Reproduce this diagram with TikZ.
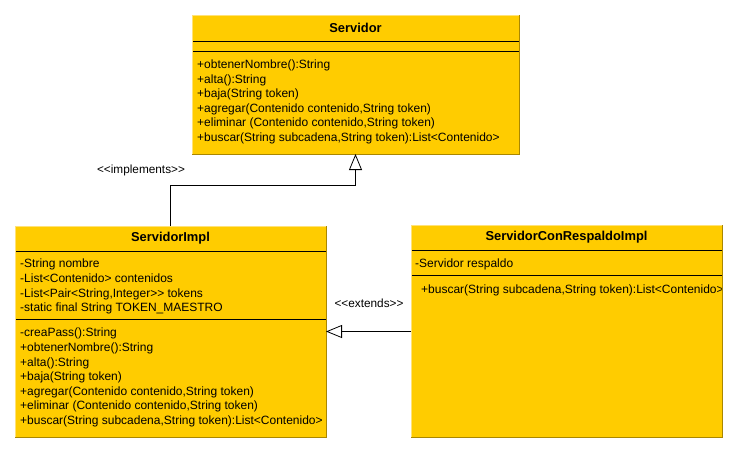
\documentclass[tikz,border=0pt]{standalone}
\usepackage{fontspec}
\setmainfont{Liberation Sans}[Ligatures=TeXOff]
\usetikzlibrary{positioning,arrows.meta}
\definecolor{umlFill}{RGB}{255,204,0}
\definecolor{umlEdge}{RGB}{170,135,0}
\definecolor{umlLight}{RGB}{255,226,120}
\tikzset{umlPart/.style={fill=umlFill, inner sep=0pt, outer sep=0pt, anchor=north west}}
\tikzset{umlTitle/.style={font=\fontsize{12.9}{15}\selectfont\bfseries}}
\tikzset{umlText/.style={font=\fontsize{12}{14.6}\selectfont, align=left, inner sep=0pt, anchor=north west}}
\tikzset{umlSep/.style={line width=0.8pt, black}}
\tikzset{umlRel/.style={line width=0.8pt, -{Triangle[open, length=16pt, width=13pt]}}}

\begin{document}
\begin{tikzpicture}[x=1pt, y=-1pt]
	\useasboundingbox (0,0) rectangle (739,453);
	
	% Servidor
	\node[umlPart, umlTitle, minimum width=327pt, minimum height=26pt] (servT) at (192,15) {Servidor};
	\node[umlPart, minimum width=327pt, minimum height=10pt, below=0pt of servT] (servA) {};
	\node[umlPart, minimum width=327pt, minimum height=103pt, below=0pt of servA] (servM) {};
	\node[umlText] (servMtxt) at ([shift={(5,8.6)}]servM.north west) {+obtenerNombre():String\\+alta():String\\+baja(String token)\\+agregar(Contenido contenido,String token)\\+eliminar (Contenido contenido,String token)\\+buscar(String subcadena,String token):List<Contenido>};
	\draw[umlSep] (servA.north west) -- (servA.north east);
	\draw[umlSep] (servM.north west) -- (servM.north east);
	\draw[umlLight] (servM.south west) -- (servT.north west) -- (servT.north east);
	\draw[umlEdge] (servT.north east) -- (servM.south east) -- (servM.south west);
	
	% ServidorImpl
	\node[umlPart, umlTitle, minimum width=311pt, minimum height=25pt] (implT) at (15,226) {ServidorImpl};
	\node[umlPart, minimum width=311pt, minimum height=68pt, below=0pt of implT] (implA) {};
	\node[umlPart, minimum width=311pt, minimum height=118pt, below=0pt of implA] (implM) {};
	\node[umlText] (implAtxt) at ([shift={(5,8)}]implA.north west) {-String nombre\\-List<Contenido> contenidos\\-List<Pair<String,Integer>> tokens\\-static final String TOKEN\_MAESTRO};
	\node[umlText] (implMtxt) at ([shift={(5,9)}]implM.north west) {-creaPass():String\\+obtenerNombre():String\\+alta():String\\+baja(String token)\\+agregar(Contenido contenido,String token)\\+eliminar (Contenido contenido,String token)\\+buscar(String subcadena,String token):List<Contenido>};
	\draw[umlSep] (implA.north west) -- (implA.north east);
	\draw[umlSep] (implM.north west) -- (implM.north east);
	\draw[umlLight] (implM.south west) -- (implT.north west) -- (implT.north east);
	\draw[umlEdge] (implT.north east) -- (implM.south east) -- (implM.south west);
	
	% ServidorConRespaldoImpl
	\node[umlPart, umlTitle, minimum width=311pt, minimum height=25pt] (respT) at (411,225) {ServidorConRespaldoImpl};
	\node[umlPart, minimum width=311pt, minimum height=25pt, below=0pt of respT] (respA) {};
	\node[umlPart, minimum width=311pt, minimum height=162pt, below=0pt of respA] (respM) {};
	\node[umlText] (respAtxt) at ([shift={(4,9)}]respA.north west) {-Servidor respaldo};
	\node[umlText] (respMtxt) at ([shift={(10,9.6)}]respM.north west) {+buscar(String subcadena,String token):List<Contenido>};
	\draw[umlSep] (respA.north west) -- (respA.north east);
	\draw[umlSep] (respM.north west) -- (respM.north east);
	\draw[umlLight] (respM.south west) -- (respT.north west) -- (respT.north east);
	\draw[umlEdge] (respT.north east) -- (respM.south east) -- (respM.south west);
	
	% relaciones
	\draw[umlRel] (implT.north) -- ++(0,-41) -| (servM.south);
	\node[font=\fontsize{11.8}{14}\selectfont] (implLbl) at (141,170) {<<implements>>};
	\coordinate (extY) at (0,331.5);
	\draw[umlRel] (respM.west |- extY) -- (implM.east |- extY);
	\node[font=\fontsize{11.8}{14}\selectfont] (extLbl) at (369,303) {<<extends>>};
\end{tikzpicture}
\end{document}
